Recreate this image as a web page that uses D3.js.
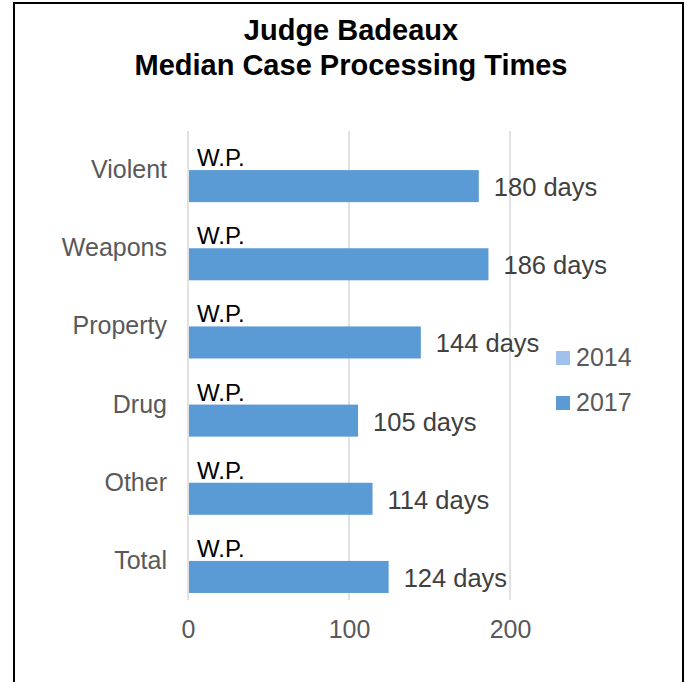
<!DOCTYPE html>
<html>
<head>
<meta charset="utf-8">
<script src="https://cdn.jsdelivr.net/npm/d3@7"></script>
<style>
  body { margin: 0; background: #fff; }
  text { font-family: "Liberation Sans", Arial, sans-serif; }
</style>
</head>
<body>
<svg id="chart" width="687" height="682"></svg>
<script>
// data
const categories = ["Violent", "Weapons", "Property", "Drug", "Other", "Total"];
const seriesNames = ["2014", "2017"];
const values2014 = [null, null, null, null, null, null]; // W.P.
const values2017 = [180, 186, 144, 105, 114, 124];
const xTicks = [0, 100, 200];
const seriesColors = ["#9FC1EC", "#5B9BD5"];

const svg = d3.select("#chart");

// chart frame
svg.append("rect")
  .attr("x", 14).attr("y", 3)
  .attr("width", 669).attr("height", 700)
  .attr("fill", "none")
  .attr("stroke", "#000")
  .attr("stroke-width", 2);

// title
const title = svg.append("text")
  .attr("text-anchor", "middle")
  .attr("font-weight", "bold")
  .style("font-size", "29px")
  .attr("fill", "#000");
title.append("tspan").attr("x", 351).attr("y", 40).text("Judge Badeaux");
title.append("tspan").attr("x", 351).attr("y", 75).text("Median Case Processing Times");

const x = d3.scaleLinear().domain([0, 200]).range([188, 510]);
const y = d3.scaleBand().domain(categories).range([131, 600]).paddingInner(0.18).paddingOuter(0.09);
const ySub = d3.scaleBand().domain(seriesNames).range([0, y.bandwidth()]);

// gridlines
svg.append("g")
  .selectAll("line")
  .data(xTicks)
  .join("line")
  .attr("x1", d => x(d)).attr("x2", d => x(d))
  .attr("y1", 131).attr("y2", 600)
  .attr("stroke", "#d9d9d9")
  .attr("stroke-width", 1.5);

// x axis labels
const xAxis = svg.append("g")
  .attr("transform", "translate(0,600)")
  .call(d3.axisBottom(x).tickValues(xTicks).tickSize(0).tickPadding(20));
xAxis.select(".domain").remove();
xAxis.selectAll("text")
  .style("font-size", "25px")
  .attr("fill", "#595959")
  .style("font-family", "Liberation Sans, Arial, sans-serif");

// category labels
const yAxis = svg.append("g")
  .attr("transform", "translate(188,0)")
  .call(d3.axisLeft(y).tickSize(0).tickPadding(21));
yAxis.select(".domain").remove();
yAxis.selectAll("text")
  .style("font-size", "25px")
  .attr("fill", "#595959")
  .style("font-family", "Liberation Sans, Arial, sans-serif");

// bars for 2017
svg.append("g")
  .selectAll("rect")
  .data(categories.map((c, i) => ({ c, v: values2017[i] })))
  .join("rect")
  .attr("x", x(0) + 1)
  .attr("y", d => y(d.c) + ySub("2017"))
  .attr("width", d => x(d.v) - x(0))
  .attr("height", ySub.bandwidth())
  .attr("fill", seriesColors[1]);

// 2014 "W.P." labels
svg.append("g")
  .selectAll("text")
  .data(categories.map((c, i) => ({ c, v: values2014[i] })))
  .join("text")
  .attr("x", x(0) + 9)
  .attr("y", d => y(d.c) + ySub("2014") + ySub.bandwidth() - 4)
  .style("font-size", "24px")
  .attr("fill", "#000")
  .text(d => d.v == null ? "W.P." : d.v + " days");

// 2017 value labels
svg.append("g")
  .selectAll("text")
  .data(categories.map((c, i) => ({ c, v: values2017[i] })))
  .join("text")
  .attr("x", d => x(d.v) + 16)
  .attr("y", d => y(d.c) + ySub("2017") + ySub.bandwidth() / 2 + 10)
  .style("font-size", "25.5px")
  .attr("fill", "#404040")
  .text(d => d.v + " days");

// legend
const legend = svg.append("g")
  .selectAll("g")
  .data(seriesNames)
  .join("g")
  .attr("transform", (d, i) => `translate(556,${351 + i * 45})`);
legend.append("rect")
  .attr("width", 14).attr("height", 14)
  .attr("fill", (d, i) => seriesColors[i]);
legend.append("text")
  .attr("x", 20).attr("y", 15)
  .style("font-size", "25px")
  .attr("fill", "#595959")
  .text(d => d);
</script>
</body>
</html>
